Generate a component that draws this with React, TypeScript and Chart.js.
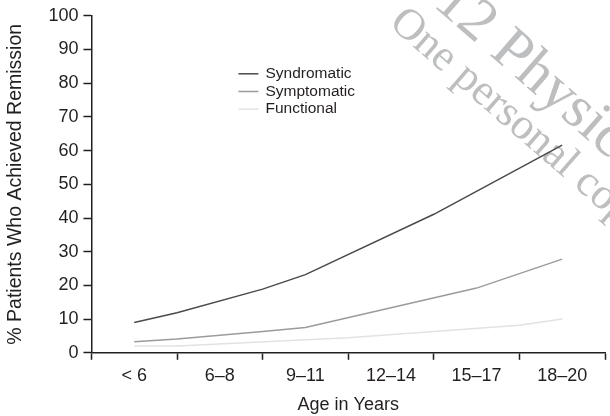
import React, { useEffect, useRef } from 'react';
import { Chart, registerables } from 'chart.js';

Chart.register(...registerables);

const categories = ['< 6', '6–8', '9–11', '12–14', '15–17', '18–20'];
const yTicks = [0, 10, 20, 30, 40, 50, 60, 70, 80, 90, 100];
const seriesNames = ['Syndromatic', 'Symptomatic', 'Functional'];
const seriesColors = ['#4a4a4a', '#9b9b9b', '#e2e2e2'];

// positions are in category units (0 = "< 6", 0.5 = between "< 6" and "6–8", ...)
const syndromaticPos = [0, 0.5, 1.5, 2, 3.5, 5];
const syndromaticVal = [9.0, 11.9, 18.9, 23.2, 41.1, 61.6];
const symptomaticPos = [0, 0.5, 1.5, 2, 4, 5];
const symptomaticVal = [3.3, 4.1, 6.3, 7.5, 19.2, 27.8];
const functionalPos = [0, 0.5, 2.5, 4.5, 5];
const functionalVal = [2.0, 2.0, 4.5, 8.2, 10.0];

const watermarkTop = '© Copyright 2012 Physicians Postgraduate Press, Inc.';
const watermarkTopAnchor = '© Copyright 2012 ';
const watermarkBottom = 'One personal copy may be printed';

const FONT = "'Liberation Sans', Arial, Helvetica, sans-serif";
const SERIF = "'Liberation Serif', 'Times New Roman', serif";
const TEXT = '#231f20';

const toPoints = (pos: number[], val: number[]) => pos.map((p, i) => ({ x: p, y: val[i] }));

const watermarkPlugin = {
  id: 'watermark',
  beforeDatasetsDraw(chart: any) {
    const ctx = chart.ctx;
    ctx.save();
    ctx.translate(388, 25);
    ctx.rotate((41 * Math.PI) / 180);
    ctx.fillStyle = '#bcbec0';
    ctx.textBaseline = 'alphabetic';
    ctx.textAlign = 'left';
    ctx.font = `44px ${SERIF}`;
    ctx.fillText(watermarkBottom, 0, 0);
    ctx.font = `60px ${SERIF}`;
    const off = ctx.measureText(watermarkTopAnchor).width;
    ctx.fillText(watermarkTop, 95 - off, -44);
    ctx.restore();
  },
};

const legendPlugin = {
  id: 'innerLegend',
  afterDatasetsDraw(chart: any) {
    const ctx = chart.ctx;
    const area = chart.chartArea;
    const x0 = area.left + 147;
    const y0 = area.top + 58;
    ctx.save();
    ctx.font = `15.5px ${FONT}`;
    ctx.textBaseline = 'middle';
    ctx.textAlign = 'left';
    chart.data.datasets.forEach((ds: any, i: number) => {
      const y = y0 + i * 17.7;
      ctx.strokeStyle = ds.borderColor;
      ctx.lineWidth = 1.5;
      ctx.beginPath();
      ctx.moveTo(x0, y);
      ctx.lineTo(x0 + 20, y);
      ctx.stroke();
      ctx.fillStyle = TEXT;
      ctx.fillText(ds.label, x0 + 27, y);
    });
    ctx.restore();
  },
};

export default function App() {
  const ref = useRef<HTMLCanvasElement | null>(null);

  useEffect(() => {
    if (!ref.current) return;
    const seriesData = [
      toPoints(syndromaticPos, syndromaticVal),
      toPoints(symptomaticPos, symptomaticVal),
      toPoints(functionalPos, functionalVal),
    ];
    const chart = new Chart(ref.current, {
      type: 'line',
      data: {
        datasets: seriesNames.map((name, i) => ({
          label: name,
          data: seriesData[i],
          borderColor: seriesColors[i],
          backgroundColor: seriesColors[i],
          borderWidth: 1.5,
          pointRadius: 0,
          tension: 0,
          fill: false,
        })),
      },
      options: {
        animation: false,
        responsive: true,
        maintainAspectRatio: false,
        layout: { padding: { top: 6, right: 0, bottom: 0, left: 4 } },
        plugins: { legend: { display: false }, tooltip: { enabled: false } },
        scales: {
          x: {
            type: 'linear',
            min: -0.5,
            max: 5.5,
            afterBuildTicks: (scale: any) => {
              const t: any[] = [];
              for (let i = 0; i <= categories.length * 2; i++) t.push({ value: -0.5 + i * 0.5 });
              scale.ticks = t;
            },
            ticks: {
              autoSkip: false,
              maxRotation: 0,
              padding: 5,
              color: TEXT,
              font: { family: FONT, size: 18 },
              callback: (v: any) => (Number.isInteger(v) && v >= 0 && v < categories.length ? categories[v] : ''),
            },
            grid: {
              drawOnChartArea: false,
              drawTicks: true,
              tickLength: 7,
              tickWidth: 1.5,
              tickColor: (c: any) => (c.tick && Number.isInteger(c.tick.value) ? 'rgba(0,0,0,0)' : TEXT),
            },
            border: { display: true, color: TEXT, width: 1.5 },
            title: {
              display: true,
              text: 'Age in Years',
              color: TEXT,
              font: { family: FONT, size: 18 },
              padding: { top: 3, bottom: 0 },
            },
          },
          y: {
            min: 0,
            max: 100,
            afterBuildTicks: (scale: any) => {
              scale.ticks = yTicks.map((v) => ({ value: v }));
            },
            ticks: {
              padding: 5,
              color: TEXT,
              font: { family: FONT, size: 18 },
            },
            grid: {
              drawOnChartArea: false,
              drawTicks: true,
              tickLength: 8,
              tickWidth: 1.5,
              tickColor: TEXT,
            },
            border: { display: true, color: TEXT, width: 1.5 },
            title: {
              display: true,
              text: '% Patients Who Achieved Remission',
              color: TEXT,
              font: { family: FONT, size: 19.5 },
              padding: { top: 0, bottom: 16 },
            },
          },
        },
      },
      plugins: [watermarkPlugin, legendPlugin],
    } as any);
    return () => chart.destroy();
  }, []);

  return (
    <div style={{ position: 'absolute', left: 0, top: 0, width: 610, height: 416, overflow: 'hidden', background: '#fff' }}>
      <canvas ref={ref} />
    </div>
  );
}
